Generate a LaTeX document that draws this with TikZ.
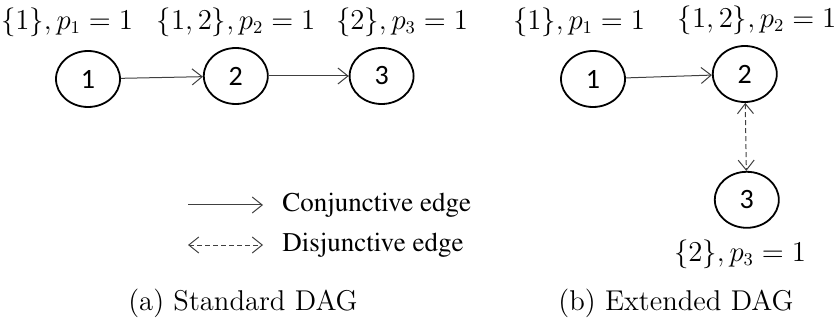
\documentclass[tikz,border=0pt]{standalone}
\usepackage{fontspec}
\usepackage{tikz}
\usetikzlibrary{shapes.geometric, arrows.meta, positioning}
\newfontfamily\taskfont{Carlito}
\newcommand{\legendserif}{\fontencoding{T1}\fontfamily{ptm}}
\tikzset{
  task/.style={ellipse, draw=black, line width=0.9pt, minimum width=32pt, minimum height=28pt, inner sep=0pt, font=\fontsize{14}{16}\selectfont\taskfont},
  info/.style={inner sep=0pt, font=\fontsize{13.5}{15}\selectfont},
  conj/.style={-{Straight Barb[length=5pt, width=8pt]}, line width=0.5pt, black!75},
  disj/.style={{Straight Barb[length=5pt, width=8pt]}-{Straight Barb[length=5pt, width=8pt]}, dashed, dash pattern=on 2.5pt off 1.5pt, line width=0.5pt, black!75},
  keytext/.style={anchor=west, inner sep=0pt, font=\legendserif\fontsize{13.5}{15}\selectfont},
  capt/.style={inner sep=0pt, font=\fontsize{14.3}{16}\selectfont},
}
\begin{document}
\begin{tikzpicture}[x=0.5pt, y=-0.5pt, node distance=40pt and 40pt]
\useasboundingbox (0,0) rectangle (834,331);
% (a) standard DAG
\node[task] (a1) at (88,79) {1};
\node[task, right=41pt of a1, yshift=1.5pt] (a2) {2};
\node[task, right=40pt of a2] (a3) {3};
\node[info] (la1) at (67,22) {$\{1\},p_1=1$};
\node[info] (la2) at (236,22) {$\{1,2\},p_2=1$};
\node[info] (la3) at (402,22) {$\{2\},p_3=1$};
\draw[conj](a1)--(a2);
\draw[conj](a2)--(a3);
% legend
\coordinate (k1) at (188,205);
\coordinate (k2) at (263,205);
\coordinate (k3) at (188,245);
\coordinate (k4) at (263,245);
\draw[conj](k1)--(k2);
\draw[disj](k3)--(k4);
\node[keytext] (kc) at (282,205) {Conjunctive edge};
\node[keytext] (kd) at (282,245) {Disjunctive edge};
% (b) extended DAG
\node[task] (b1) at (593,79) {1};
\node[task, right=43pt of b1, yshift=2.5pt] (b2) {2};
\node[task, below=34pt of b2, xshift=1pt] (b3) {3};
\node[info] (lb1) at (579,22) {$\{1\},p_1=1$};
\node[info] (lb2) at (757,20) {$\{1,2\},p_2=1$};
\node[info] (lb3) at (740,254) {$\{2\},p_3=1$};
\draw[conj](b1)--(b2);
\draw[disj](b2)--(b3);
% captions
\node[capt] (ca) at (243,303) {(a) Standard DAG};
\node[capt] (cb) at (676,303) {(b) Extended DAG};
\end{tikzpicture}
\end{document}
